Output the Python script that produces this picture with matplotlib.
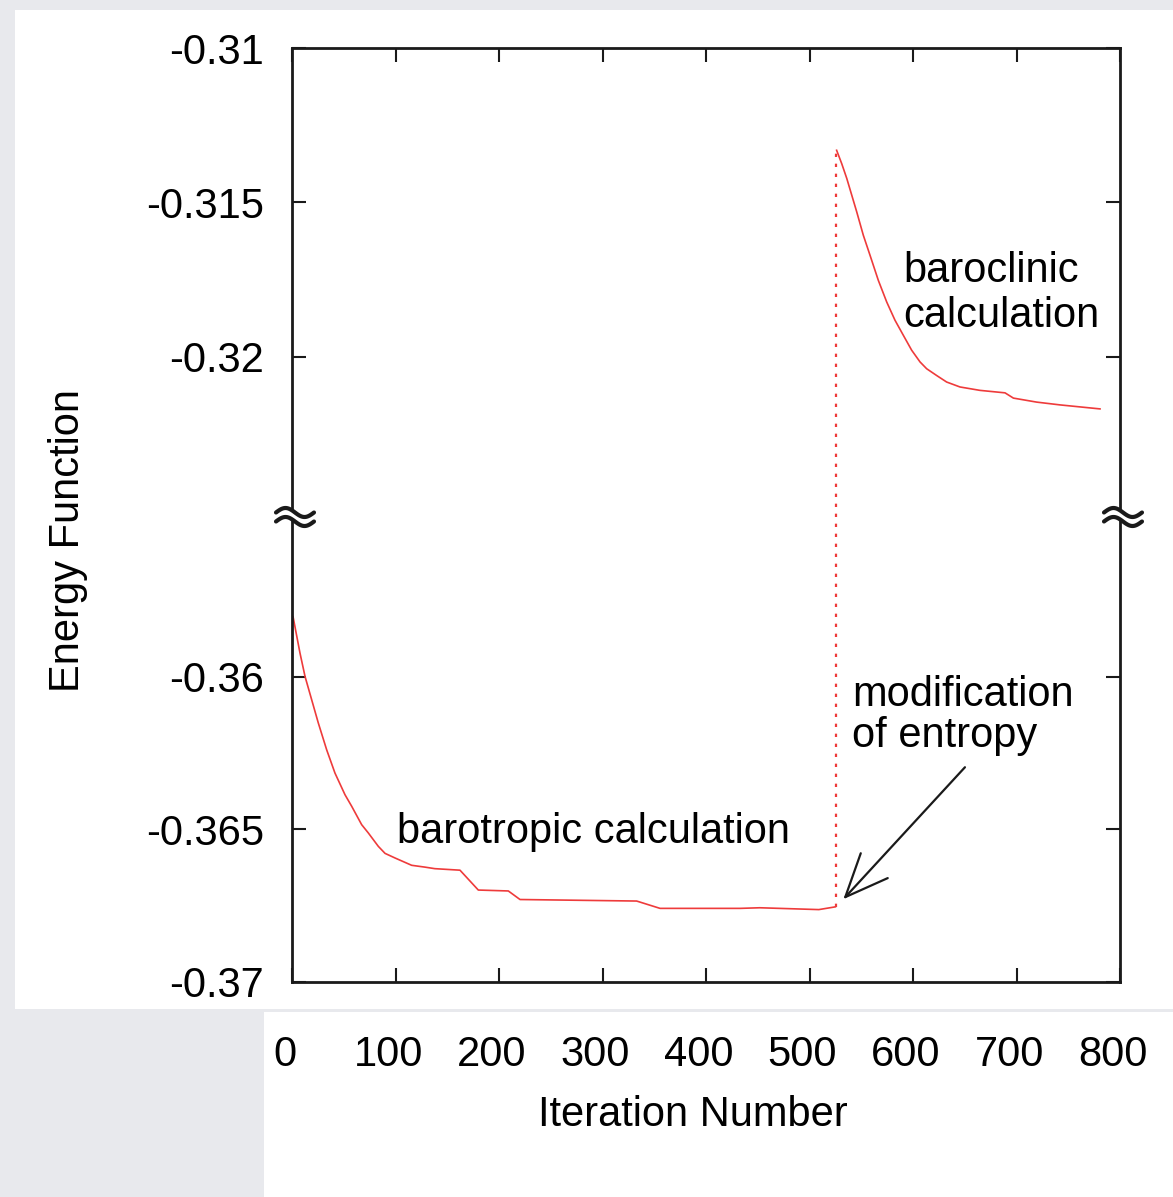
import numpy as np
import matplotlib
matplotlib.use("Agg")
import matplotlib.pyplot as plt
from matplotlib.patches import Rectangle
from matplotlib.transforms import ScaledTranslation

plt.rcParams["font.family"] = ["Liberation Sans", "DejaVu Sans"]

W, H = 1173, 1197
DPI = 100

# barotropic stage (lower panel)
baro_x = [1, 7.7, 12.6, 19, 25.4, 33.5, 41.5, 51.2, 57.7, 67.3, 73.7,
          83.4, 89.9, 99.5, 115.6, 128.5, 138, 162.3, 180, 209, 220.3,
          333, 355.6, 433, 452, 509, 525]
baro_y = [-0.35804, -0.35923, -0.3600, -0.36076, -0.36152, -0.3624,
          -0.36316, -0.36387, -0.36425, -0.36485, -0.36512, -0.36556,
          -0.36579, -0.36594, -0.36618, -0.36624, -0.36629, -0.36634,
          -0.36699, -0.36702, -0.36730, -0.36735, -0.36759, -0.36759,
          -0.36757, -0.36763, -0.36754]

# baroclinic stage (upper panel)
clin_x = [526.2, 531.1, 536, 540.8, 545.6, 552, 558.5, 566.5, 574.6,
          582.6, 590.7, 598.7, 606.8, 613.2, 622.9, 632.5, 645.4, 664.7,
          688.9, 697, 719.5, 742, 780.7]
clin_y = [-0.31331, -0.31374, -0.31422, -0.31476, -0.3153, -0.31606,
          -0.31671, -0.31752, -0.31822, -0.31881, -0.3193, -0.31978,
          -0.32016, -0.32038, -0.3206, -0.32081, -0.32097, -0.32108,
          -0.32116, -0.32133, -0.32146, -0.32155, -0.32168]

switch_x = 526

x_ticks = [0, 100, 200, 300, 400, 500, 600, 700, 800]
upper_ticks = [-0.31, -0.315, -0.32]
upper_labels = ["-0.31", "-0.315", "-0.32"]
lower_ticks = [-0.36, -0.365, -0.37]
lower_labels = ["-0.36", "-0.365", "-0.37"]

UPPER_LIM = (-0.325178, -0.31)
LOWER_LIM = (-0.37, -0.354779)

# layout in pixels
LEFT_PX, RIGHT_PX = 292, 1120
TOP_PX, BREAK_PX, BOTTOM_PX = 48, 517, 982
RED = "#ee3b3b"
INK = "#1a1a1a"
FS = 30


def fx(px):
    return px / W


def fy(py):
    return 1 - py / H


fig = plt.figure(figsize=(W / DPI, H / DPI), dpi=DPI, facecolor="#e8e9ed")
fig.patches.append(Rectangle((fx(15), fy(1009)), fx(W - 15), 1009 / H - 10 / H,
                             transform=fig.transFigure, facecolor="white",
                             edgecolor="none", zorder=-10))
fig.patches.append(Rectangle((fx(264), 0), fx(W - 264), fy(1012),
                             transform=fig.transFigure, facecolor="white",
                             edgecolor="none", zorder=-10))

ax_hi = fig.add_axes([fx(LEFT_PX), fy(BREAK_PX), fx(RIGHT_PX - LEFT_PX),
                      (BREAK_PX - TOP_PX) / H])
ax_lo = fig.add_axes([fx(LEFT_PX), fy(BOTTOM_PX), fx(RIGHT_PX - LEFT_PX),
                      (BOTTOM_PX - BREAK_PX) / H])

for ax in (ax_hi, ax_lo):
    ax.set_facecolor("none")
    ax.set_xlim(0, 800)
    for s in ax.spines.values():
        s.set_linewidth(2.0)
        s.set_color(INK)
    ax.tick_params(direction="in", length=10, width=1.5, color=INK,
                   labelsize=FS, left=True, right=True)
    ax.set_xticks(x_ticks)

ax_hi.spines["bottom"].set_visible(False)
ax_lo.spines["top"].set_visible(False)

ax_hi.set_ylim(*UPPER_LIM)
ax_hi.set_yticks(upper_ticks)
ax_hi.set_yticklabels(upper_labels)
ax_hi.tick_params(axis="x", top=True, bottom=False, labelbottom=False)
ax_hi.tick_params(axis="y", pad=20)

ax_lo.set_ylim(*LOWER_LIM)
ax_lo.set_yticks(lower_ticks)
ax_lo.set_yticklabels(lower_labels)
ax_lo.tick_params(axis="x", top=False, bottom=True, pad=38)
ax_lo.tick_params(axis="y", pad=20)
shift = ScaledTranslation(-7 / DPI, 0, fig.dpi_scale_trans)
for lab in ax_lo.get_xticklabels():
    lab.set_transform(lab.get_transform() + shift)

# curves
ax_lo.plot(baro_x, baro_y, color=RED, lw=1.2, solid_joinstyle="round")
ax_hi.plot(clin_x, clin_y, color=RED, lw=1.2, solid_joinstyle="round")
ax_lo.plot([switch_x, switch_x], [baro_y[-1], LOWER_LIM[1]], color=RED,
           lw=1.6, linestyle=(0, (1.5, 3)), clip_on=False)
ax_hi.plot([switch_x, switch_x], [UPPER_LIM[0], clin_y[0]], color=RED,
           lw=1.6, linestyle=(0, (1.5, 3)), clip_on=False)

# annotations
ax_lo.text(101.4, -0.36545, "barotropic calculation", fontsize=FS,
           va="baseline", ha="left")
ax_hi.text(590.3, -0.31756, "baroclinic", fontsize=FS, va="baseline", ha="left")
ax_hi.text(590.3, -0.31902, "calculation", fontsize=FS, va="baseline", ha="left")
ax_lo.text(541, -0.36098, "modification", fontsize=FS, va="baseline", ha="left")
ax_lo.text(541, -0.36230, "of entropy", fontsize=FS, va="baseline", ha="left")
ax_lo.annotate("", xy=(532.7, -0.36729), xytext=(650.2, -0.36297),
               arrowprops=dict(arrowstyle="->,head_length=1.4,head_width=0.6",
                               color=INK, lw=1.6, mutation_scale=22,
                               shrinkA=0, shrinkB=0))

fig.text(fx(693), fy(1115), "Iteration Number", fontsize=FS, ha="center",
         va="center")
fig.text(fx(68), fy(540), "Energy Function", fontsize=FS, ha="center",
         va="center", rotation=90)

# axis break marks
over = fig.add_axes([0, 0, 1, 1], zorder=5)
over.set_xlim(0, W)
over.set_ylim(H, 0)
over.axis("off")
over.patch.set_alpha(0)
t = np.linspace(-1, 1, 60)
for cx in (LEFT_PX + 3, RIGHT_PX + 3):
    xs = cx + 19 * t
    up = BREAK_PX - 4.5 + 4.5 * np.sin(np.pi * t)
    dn = BREAK_PX + 4.5 + 4.5 * np.sin(np.pi * t)
    over.fill_between(xs, up, dn, color="white", lw=0)
    over.plot(xs, up, color=INK, lw=3.0, solid_capstyle="round")
    over.plot(xs, dn, color=INK, lw=3.0, solid_capstyle="round")

fig.savefig("out.png", dpi=DPI, facecolor=fig.get_facecolor())
